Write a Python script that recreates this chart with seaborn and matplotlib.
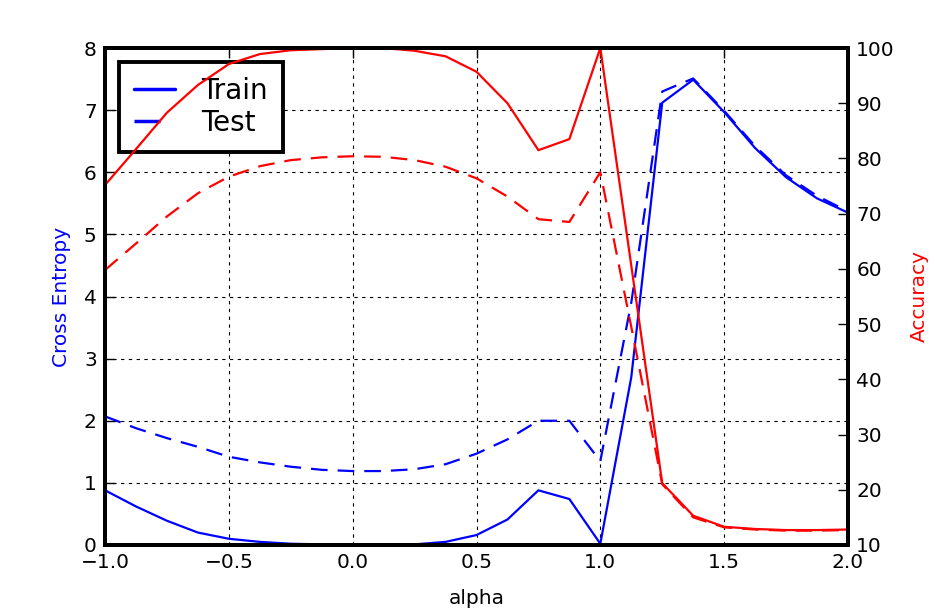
import numpy as np
import pandas as pd
import matplotlib
matplotlib.use("Agg")
import matplotlib.pyplot as plt
import seaborn as sns

# interpolation coefficient between the two solutions
alpha = [-1.0, -0.875, -0.75, -0.625, -0.5, -0.375, -0.25, -0.125, 0.0,
         0.125, 0.25, 0.375, 0.5, 0.625, 0.75, 0.875, 1.0,
         1.125, 1.25, 1.375, 1.5, 1.625, 1.75, 1.875, 2.0]

train_ce = [0.88, 0.62, 0.39, 0.20, 0.10, 0.05, 0.02, 0.01, 0.005,
            0.005, 0.01, 0.05, 0.16, 0.41, 0.88, 0.74, 0.02,
            2.70, 7.12, 7.49, 6.97, 6.39, 5.92, 5.58, 5.35]
test_ce = [2.07, 1.88, 1.72, 1.58, 1.42, 1.33, 1.26, 1.21, 1.19,
           1.19, 1.22, 1.30, 1.47, 1.70, 2.00, 2.00, 1.35,
           3.90, 7.30, 7.51, 6.99, 6.42, 5.95, 5.62, 5.37]

train_acc = [75.2, 81.7, 88.3, 93.3, 97.1, 98.9, 99.6, 99.8, 100.0,
             100.0, 99.5, 98.5, 95.7, 90.0, 81.5, 83.5, 100.0,
             60.6, 21.2, 15.3, 13.3, 12.9, 12.7, 12.7, 12.8]
test_acc = [59.8, 64.6, 69.5, 73.7, 76.7, 78.6, 79.7, 80.2, 80.4,
            80.3, 79.7, 78.5, 76.4, 73.1, 69.0, 68.5, 77.5,
            49.5, 21.0, 15.0, 13.2, 12.8, 12.6, 12.6, 12.7]

df = pd.DataFrame({
    "alpha": alpha,
    "train_ce": train_ce, "test_ce": test_ce,
    "train_acc": train_acc, "test_acc": test_acc,
})

sns.set_style("white", {
    "xtick.direction": "in", "ytick.direction": "in",
    "axes.edgecolor": "black", "axes.labelcolor": "black",
    "text.color": "black", "xtick.color": "black", "ytick.color": "black",
})
plt.rcParams["font.family"] = ["DejaVu Sans"]
plt.rcParams["font.size"] = 14.5

fig = plt.figure(figsize=(9.38, 6.14), dpi=100)
ax1 = fig.add_axes([0.112, 0.1124, 0.792, 0.8094])
ax2 = ax1.twinx()

dash = (0, (7.5, 4.5))

# cross entropy (left axis)
sns.lineplot(data=df, x="alpha", y="train_ce", ax=ax1, color="blue",
             linewidth=1.6, label="Train")
sns.lineplot(data=df, x="alpha", y="test_ce", ax=ax1, color="blue",
             linewidth=1.6, linestyle=dash, label="Test")

# accuracy (right axis)
sns.lineplot(data=df, x="alpha", y="train_acc", ax=ax2, color="red",
             linewidth=1.6, legend=False)
sns.lineplot(data=df, x="alpha", y="test_acc", ax=ax2, color="red",
             linewidth=1.6, linestyle=dash, legend=False)

ax1.set_xlim(-1, 2)
ax1.set_ylim(0, 8)
ax2.set_ylim(10, 100)
ax1.set_xticks([-1.0, -0.5, 0.0, 0.5, 1.0, 1.5, 2.0])
ax1.set_yticks(range(0, 9))
ax2.set_yticks(range(10, 101, 10))

ax1.set_xlabel("alpha", fontsize=14.5, labelpad=12)
ax1.set_ylabel("Cross Entropy", color="blue", fontsize=14.5, labelpad=9)
ax2.set_ylabel("Accuracy", color="red", fontsize=14.5, labelpad=11)

ax1.grid(True, color="black", linestyle=(0, (3, 4)), linewidth=0.8)
ax1.tick_params(axis="both", direction="in", length=7, width=1,
                labelsize=14.5, pad=6, top=True)
ax1.tick_params(axis="y", right=False)
ax2.tick_params(axis="y", direction="in", length=7, width=1,
                labelsize=14.5, pad=6)

for ax in (ax1, ax2):
    for sp in ax.spines.values():
        sp.set_linewidth(2.8)
        sp.set_color("black")

leg = ax1.legend(loc="upper left", fontsize=20, handlelength=1.45,
                 fancybox=False, framealpha=1, borderaxespad=0.5,
                 labelspacing=0.12, borderpad=0.55, handletextpad=0.95)
leg.get_frame().set_edgecolor("black")
leg.get_frame().set_linewidth(2.8)
for line in leg.get_lines():
    line.set_linewidth(2.5)

fig.savefig("out.png", dpi=100)
